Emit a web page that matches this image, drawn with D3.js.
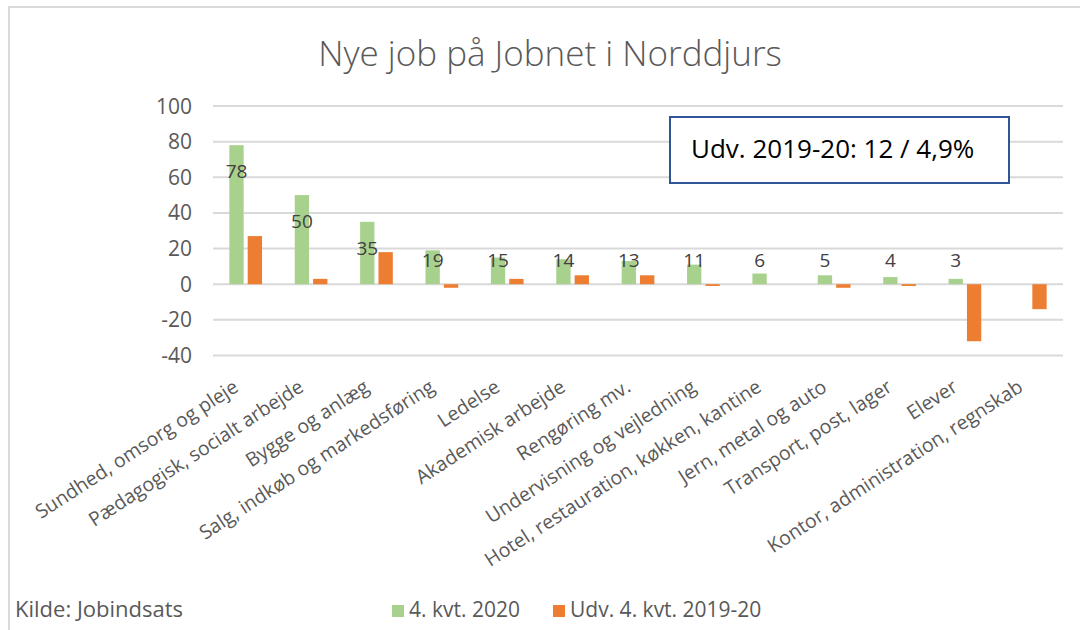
<!DOCTYPE html>
<html>
<head>
<meta charset="utf-8">
<script src="https://cdn.jsdelivr.net/npm/d3@7"></script>
<style>
  body { margin: 0; background: #fff; }
  svg text { font-family: "Open Sans", sans-serif; }
</style>
</head>
<body>
<div id="chart"></div>
<script>
// Data
const categories = [
  "Sundhed, omsorg og pleje", "Pædagogisk, socialt arbejde", "Bygge og anlæg",
  "Salg, indkøb og markedsføring", "Ledelse", "Akademisk arbejde", "Rengøring mv.",
  "Undervisning og vejledning", "Hotel, restauration, køkken, kantine",
  "Jern, metal og auto", "Transport, post, lager", "Elever",
  "Kontor, administration, regnskab"
];
const jobs2020 = [78, 50, 35, 19, 15, 14, 13, 11, 6, 5, 4, 3, null];
const change1920 = [27, 3, 18, -2, 3, 5, 5, -1, 0, -2, -1, -32, -14];
const seriesNames = ["4. kvt. 2020", "Udv. 4. kvt. 2019-20"];
const yTicks = [-40, -20, 0, 20, 40, 60, 80, 100];
const colors = ["#a9d18e", "#ed7d31"];

const width = 1080, height = 630;
const svg = d3.select("#chart").append("svg")
  .attr("width", width).attr("height", height);

// ramme
svg.append("path")
  .attr("d", "M9,630 V7 H1080")
  .attr("fill", "none").attr("stroke", "#d9d9d9").attr("stroke-width", 2);

svg.append("text")
  .attr("x", 550).attr("y", 66)
  .attr("text-anchor", "middle")
  .attr("font-size", 35).attr("font-weight", 300)
  .attr("fill", "#595959")
  .text("Nye job på Jobnet i Norddjurs");

const x = d3.scaleBand().domain(categories).range([213, 1063])
  .paddingInner(0.5).paddingOuter(0.25);
const xSub = d3.scaleBand().domain(seriesNames).range([0, x.bandwidth()])
  .paddingInner(0.22);
const y = d3.scaleLinear().domain([-40, 100]).range([355.5, 106]);

// gitterlinjer
svg.append("g").selectAll("line").data(yTicks).join("line")
  .attr("x1", 213).attr("x2", 1063)
  .attr("y1", d => y(d)).attr("y2", d => y(d))
  .attr("stroke", "#d9d9d9").attr("stroke-width", 2);

svg.append("g").selectAll("text").data(yTicks).join("text")
  .attr("x", 192).attr("y", d => y(d))
  .attr("dy", "0.36em")
  .attr("text-anchor", "end")
  .attr("font-size", 21).attr("fill", "#595959")
  .text(d => d);

// søjler
const rows = categories.map((c, i) => ({ cat: c, vals: [jobs2020[i], change1920[i]] }));
const groups = svg.append("g").selectAll("g").data(rows).join("g")
  .attr("transform", d => `translate(${x(d.cat)},0)`);

groups.selectAll("rect")
  .data(d => d.vals.map((v, j) => ({ v, s: seriesNames[j], j })).filter(e => e.v !== null && e.v !== 0))
  .join("rect")
  .attr("x", e => xSub(e.s))
  .attr("width", xSub.bandwidth())
  .attr("y", e => y(Math.max(0, e.v)))
  .attr("height", e => Math.abs(y(e.v) - y(0)))
  .attr("fill", e => colors[e.j]);

// dataetiketter
groups.filter(d => d.vals[0] !== null).append("text")
  .attr("x", xSub(seriesNames[0]) + xSub.bandwidth() / 2)
  .attr("y", d => Math.min(y(d.vals[0]) + 26, y(0) - 24))
  .attr("dy", "0.36em")
  .attr("text-anchor", "middle")
  .attr("font-size", 19).attr("fill", "#404040")
  .text(d => d.vals[0]);

// kategorietiketter
svg.append("g").selectAll("text").data(categories).join("text")
  .attr("transform", d => `translate(${x(d) + x.bandwidth() / 2 - 14},378) rotate(-33)`)
  .attr("text-anchor", "end")
  .attr("dy", "0.75em")
  .attr("font-size", 19.5).attr("fill", "#595959")
  .text(d => d);

// tekstboks
svg.append("rect")
  .attr("x", 670).attr("y", 117).attr("width", 339).attr("height", 66)
  .attr("fill", "#fff").attr("stroke", "#2f5597").attr("stroke-width", 2);
svg.append("text")
  .attr("x", 691).attr("y", 158)
  .attr("font-size", 26).attr("fill", "#000")
  .text("Udv. 2019-20: 12 / 4,9%");

// kilde og forklaring
svg.append("text")
  .attr("x", 15).attr("y", 617)
  .attr("font-size", 22).attr("fill", "#595959")
  .text("Kilde: Jobindsats");

const legendX = [392, 553];
const legend = svg.append("g").selectAll("g").data(seriesNames).join("g")
  .attr("transform", (d, i) => `translate(${legendX[i]},605)`);
legend.append("rect").attr("width", 12).attr("height", 12)
  .attr("fill", (d, i) => colors[i]);
legend.append("text")
  .attr("x", 17).attr("y", 12)
  .attr("font-size", 21).attr("fill", "#595959")
  .text(d => d);
</script>
</body>
</html>
